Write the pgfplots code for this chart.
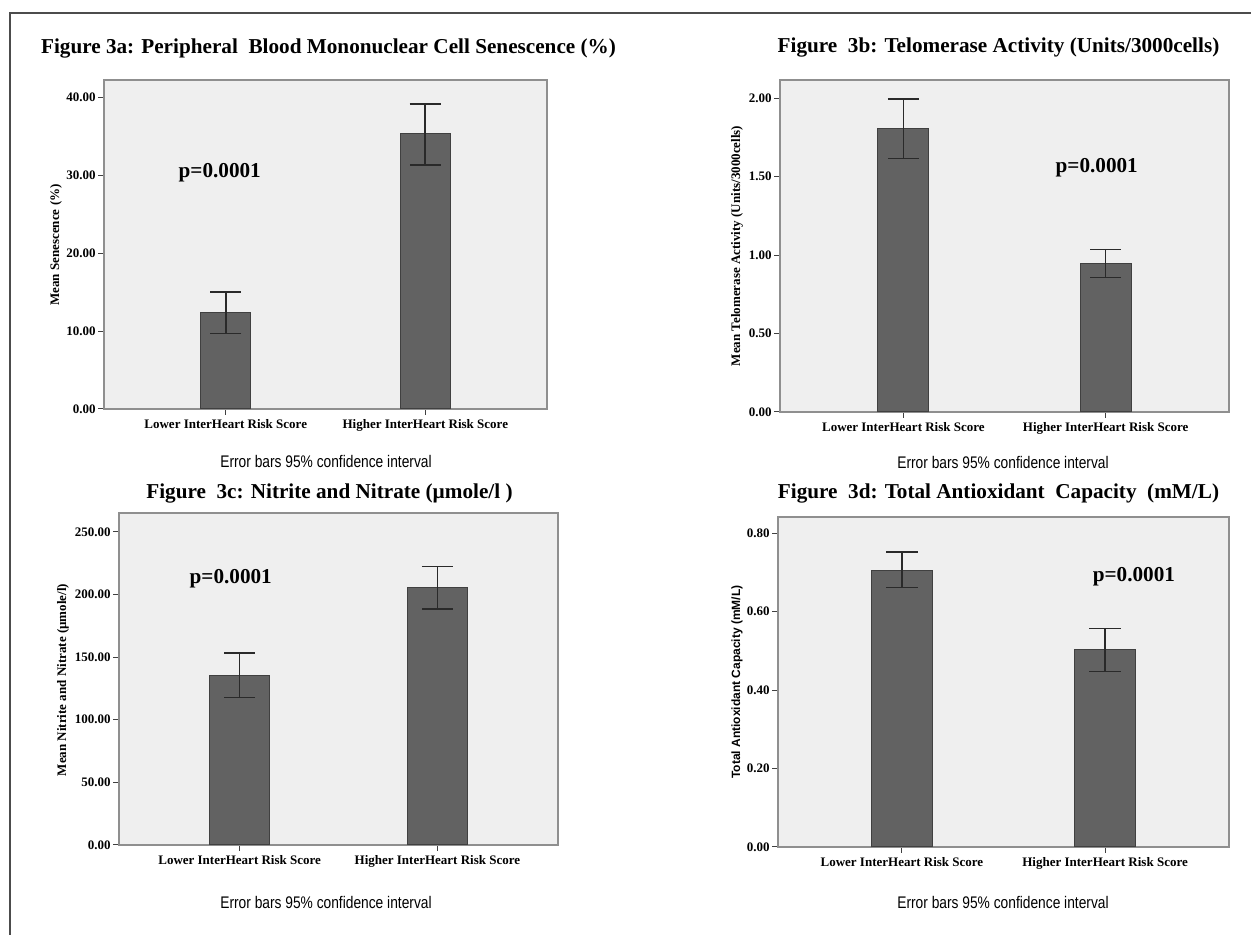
\documentclass[border=0pt]{standalone}
\usepackage{pgfplots}
\pgfplotsset{compat=1.18}
\usepackage{fontspec}
\setmainfont{Liberation Serif}
\setsansfont{Liberation Sans}
\newfontfamily\narrowsans[FakeStretch=0.82]{Liberation Sans}
\definecolor{bgfill}{HTML}{EFEFEF}
\definecolor{barfill}{HTML}{626262}
\definecolor{bardraw}{HTML}{404040}
\definecolor{axisgray}{HTML}{8F8F8F}
\definecolor{errcol}{HTML}{2A2A2A}
\newcommand\titlefont{\fontsize{10.6}{12}\selectfont\bfseries}
\newcommand\tickfont{\fontsize{6.5}{7.5}\selectfont\bfseries}
\newcommand\pfont{\fontsize{10.6}{12}\selectfont\bfseries}
\newcommand\ebfont{\narrowsans\fontsize{8.4}{10}\selectfont}
\pgfplotsset{
  panel/.style={
    scale only axis, anchor=south west, ybar,
    axis background/.style={fill=bgfill},
    axis line style={draw=axisgray, line width=0.8pt},
    tick align=outside, major tick length=3pt,
    tick style={black!75, line width=0.5pt},
    xtick pos=bottom, ytick pos=left,
    xtick={0,1},
    xticklabels={Lower InterHeart Risk Score, Higher InterHeart Risk Score},
    xmin=-0.61, xmax=1.61, ymin=0,
    ticklabel style={font=\tickfont},
    yticklabel style={inner sep=1pt, /pgf/number format/fixed, /pgf/number format/fixed zerofill, /pgf/number format/precision=2, /pgf/number format/assume math mode=true},
    xticklabel style={inner sep=1pt, yshift=-1pt},
    clip=false,
  },
  barstyle/.style={fill=barfill, draw=bardraw, line width=0.5pt,
    error bars/.cd, y dir=both, y explicit,
    error bar style={line width=0.8pt, errcol},
    error mark options={rotate=90, mark size=7.8pt, line width=0.8pt, errcol}},
}
\begin{document}
\begin{tikzpicture}
\path[fill=white, use as bounding box] (0,0) rectangle (625.5pt,467.5pt);
% outer frame lines
\draw[line width=0.6pt, black!70] (5pt,0pt) -- (5pt,461pt) -- (625.5pt,461pt);

% ---------------- Panel a ----------------
\node[font=\titlefont] at (164.25pt,443pt) {Figure 3a: Peripheral\ \ Blood Mononuclear Cell Senescence (\%)};
\begin{axis}[panel, at={(52pt,263pt)}, width=221.5pt, height=164.5pt,
  ymax=42.2, ytick={0,10,20,30,40}, bar width=0.25]
\addplot[barstyle] coordinates {
  (0,12.43) += (0,2.59) -= (0,2.73)
  (1,35.28) += (0,3.87) -= (0,3.96)
};
\node[font=\pfont] at (axis cs:-0.03,30.3) {p=0.0001};
\end{axis}
\node[font=\tickfont, rotate=90] at (28pt,345pt) {Mean Senescence (\%)};
\node[font=\ebfont] at (163pt,236.5pt) {Error bars 95\% confidence interval};

% ---------------- Panel b ----------------
\node[font=\titlefont] at (499.25pt,443.5pt) {Figure\ \ 3b: Telomerase Activity\ (Units/3000cells)};
\begin{axis}[panel, at={(390pt,261.5pt)}, width=224.5pt, height=166pt,
  ymax=2.115, ytick={0,0.5,1,1.5,2}, bar width=0.253]
\addplot[barstyle] coordinates {
  (0,1.805) += (0,0.190) -= (0,0.190)
  (1,0.945) += (0,0.090) -= (0,0.087)
};
\node[font=\pfont] at (axis cs:0.956,1.558) {p=0.0001};
\end{axis}
\node[font=\tickfont, rotate=90] at (368.5pt,344.5pt) {Mean Telomerase Activity (Units/3000cells)};
\node[font=\ebfont] at (501.5pt,236pt) {Error bars 95\% confidence interval};

% ---------------- Panel c ----------------
\node[font=\titlefont] at (164.75pt,221pt) {Figure\ \ 3c: Nitrite\ and\ Nitrate (µmole/l )};
\begin{axis}[panel, at={(59.5pt,45pt)}, width=219.5pt, height=166pt,
  ymax=265, ytick={0,50,100,150,200,250}, bar width=0.30]
\addplot[barstyle] coordinates {
  (0,135.5) += (0,17.7) -= (0,17.8)
  (1,205.5) += (0,16.7) -= (0,17.3)
};
\node[font=\pfont] at (axis cs:-0.045,212.9) {p=0.0001};
\end{axis}
\node[font=\tickfont, rotate=90] at (31.5pt,127.5pt) {Mean Nitrite and Nitrate (µmole/l)};
\node[font=\ebfont] at (163pt,16.5pt) {Error bars 95\% confidence interval};

% ---------------- Panel d ----------------
\node[font=\titlefont] at (499.25pt,221pt) {Figure\ \ 3d: Total Antioxidant\ \ Capacity\ \ (mM/L)};
\begin{axis}[panel, at={(389pt,44pt)}, width=225.5pt, height=165pt,
  ymax=0.841, ytick={0,0.2,0.4,0.6,0.8}, bar width=0.30]
\addplot[barstyle] coordinates {
  (0,0.7055) += (0,0.046) -= (0,0.0445)
  (1,0.503) += (0,0.0536) -= (0,0.0562)
};
\node[font=\pfont] at (axis cs:1.142,0.688) {p=0.0001};
\end{axis}
\node[font=\sffamily\bfseries\fontsize{6}{7}\selectfont, rotate=90] at (368.5pt,126.5pt) {Total Antioxidant Capacity (mM/L)};
\node[font=\ebfont] at (501.5pt,16.5pt) {Error bars 95\% confidence interval};
\end{tikzpicture}
\end{document}
